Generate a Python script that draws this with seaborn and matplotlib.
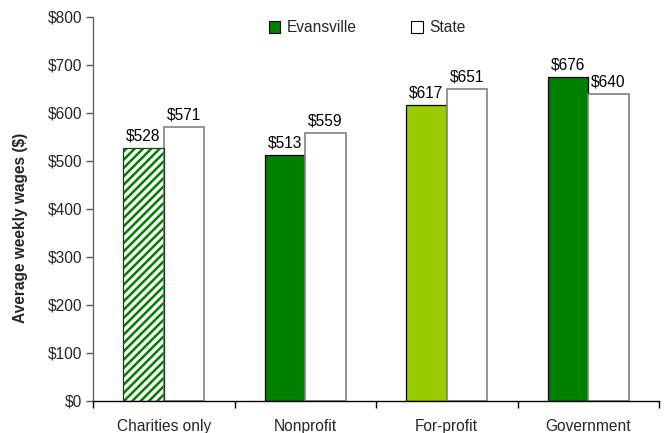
import matplotlib
matplotlib.use("Agg")
import matplotlib.pyplot as plt
import seaborn as sns
import pandas as pd
import numpy as np
from matplotlib.patches import Patch

categories = ["Charities only", "Nonprofit", "For-profit", "Government"]
evansville = [528, 513, 617, 676]
state = [571, 559, 651, 640]
series_names = ["Evansville", "State"]
yticks = [0, 100, 200, 300, 400, 500, 600, 700, 800]

sns.set_theme(style="white")
plt.rcParams["font.family"] = ["Liberation Sans", "DejaVu Sans"]
plt.rcParams["hatch.linewidth"] = 1.8

df = pd.DataFrame({
    "category": categories * 2,
    "series": [series_names[0]] * 4 + [series_names[1]] * 4,
    "value": evansville + state,
})

fig = plt.figure(figsize=(6.65, 4.33), dpi=100)
ax = fig.add_axes([93 / 665, 32 / 433, 566 / 665, 384 / 433])

sns.barplot(data=df, x="category", y="value", hue="series", order=categories,
            hue_order=series_names, palette={"Evansville": "#008000", "State": "white"},
            width=0.575, gap=0, ax=ax, legend=False, errorbar=None, saturation=1)

dark = "#008000"
light = "#99CC00"
fs = 11.2
for i, p in enumerate(ax.containers[0].patches):
    p.set_edgecolor("black")
    p.set_linewidth(0.9)
    if categories[i] == "For-profit":
        p.set_facecolor(light)
    if categories[i] == "Charities only":
        p.set_facecolor("white")
        p.set_edgecolor(dark)
        p.set_hatch("////")
        p.set_linewidth(0)
        b = p.get_bbox()
        ax.add_patch(plt.Rectangle((b.x0, b.y0), b.width, b.height, fill=False,
                                   edgecolor="#1a3d1a", linewidth=0.9, zorder=p.get_zorder() + 0.1))
for p in ax.containers[1].patches:
    p.set_edgecolor("#808080")
    p.set_linewidth(1.2)

for cont, vals in zip(ax.containers, [evansville, state]):
    ax.bar_label(cont, labels=[f"${v}" for v in vals], padding=3, fontsize=fs, color="black")

ax.set_ylim(0, 800)
ax.set_xlim(-0.5, 3.5)
ax.set_yticks(yticks)
ax.set_yticklabels([f"${v}" for v in yticks], fontsize=fs)
ax.set_xticks(range(len(categories)))
ax.set_xticklabels(categories, fontsize=fs)
ax.set_xticks(np.arange(-0.5, 3.6, 1.0), minor=True)
ax.tick_params(axis="x", which="major", length=0, pad=13)
ax.tick_params(axis="x", which="minor", length=5, width=1, color="black", direction="out", bottom=True)
ax.tick_params(axis="y", length=5, width=1, color="#555555", direction="out", left=True, pad=3)
ax.set_xlabel("")
ax.set_ylabel("Average weekly wages ($)", fontsize=fs, fontweight="bold")
ax.yaxis.set_label_coords(-0.115, 0.45)

for s in ["top", "right"]:
    ax.spines[s].set_visible(False)
ax.spines["left"].set_color("#666666")
ax.spines["bottom"].set_color("black")
ax.spines["left"].set_linewidth(1)
ax.spines["bottom"].set_linewidth(1)

handles = [Patch(facecolor=dark, edgecolor="black", linewidth=0.8),
           Patch(facecolor="white", edgecolor="black", linewidth=0.8)]
ax.legend(handles, series_names, loc="center", bbox_to_anchor=(0.484, 0.972), ncol=2,
          frameon=False, fontsize=fs, handlelength=0.75, handleheight=0.75,
          handletextpad=0.4, columnspacing=3.5)

fig.savefig("out.png", dpi=100)
